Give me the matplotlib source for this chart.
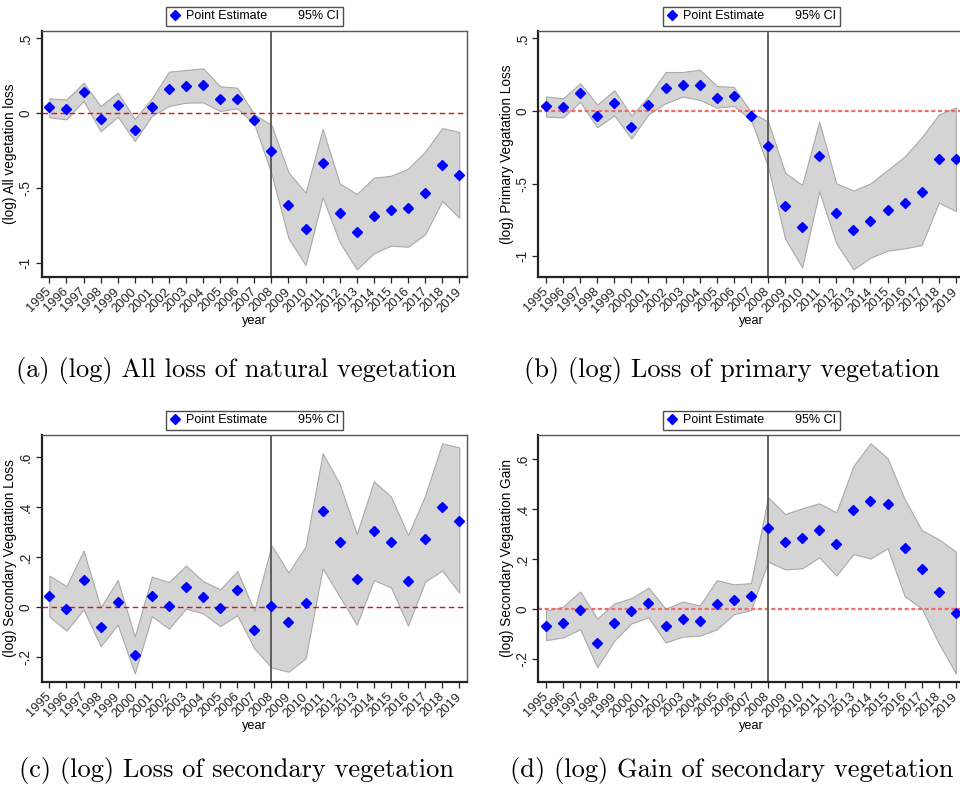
import matplotlib.pyplot as plt
from matplotlib.lines import Line2D
from matplotlib.patches import Patch

years = list(range(1995, 2020))

# (a) all vegetation loss
est_a = [0.040, 0.027, 0.142, -0.038, 0.058, -0.111, 0.040, 0.160, 0.180, 0.187, 0.096, 0.098,
         -0.044, -0.251, -0.611, -0.773, -0.329, -0.664, -0.791, -0.682, -0.647, -0.629, -0.531, -0.342, -0.413]
hi_a = [0.100, 0.093, 0.204, 0.049, 0.138, -0.038, 0.100, 0.278, 0.289, 0.300, 0.180, 0.171,
        -0.007, -0.078, -0.393, -0.529, -0.104, -0.467, -0.538, -0.429, -0.416, -0.369, -0.256, -0.098, -0.124]
lo_a = [-0.027, -0.040, 0.084, -0.120, -0.022, -0.184, -0.018, 0.049, 0.071, 0.073, 0.016, 0.033,
        -0.071, -0.400, -0.833, -1.011, -0.560, -0.860, -1.040, -0.933, -0.882, -0.889, -0.807, -0.584, -0.696]

# (b) primary vegetation loss
est_b = [0.034, 0.025, 0.126, -0.034, 0.055, -0.112, 0.039, 0.158, 0.181, 0.177, 0.092, 0.101,
         -0.034, -0.243, -0.654, -0.796, -0.312, -0.704, -0.819, -0.757, -0.683, -0.631, -0.555, -0.333, -0.333]
hi_b = [0.100, 0.087, 0.190, 0.044, 0.142, -0.032, 0.099, 0.268, 0.268, 0.284, 0.172, 0.165,
        -0.008, -0.073, -0.424, -0.509, -0.073, -0.498, -0.548, -0.498, -0.406, -0.314, -0.181, -0.025, 0.025]
lo_b = [-0.039, -0.044, 0.062, -0.112, -0.030, -0.190, -0.023, 0.053, 0.099, 0.076, 0.023, 0.034,
        -0.058, -0.383, -0.878, -1.076, -0.553, -0.911, -1.089, -1.009, -0.961, -0.945, -0.922, -0.631, -0.688]

# (c) secondary vegetation loss
est_c = [0.045, -0.005, 0.109, -0.077, 0.020, -0.191, 0.044, 0.007, 0.080, 0.040, -0.001, 0.069,
         -0.089, 0.007, -0.060, 0.017, 0.387, 0.263, 0.112, 0.307, 0.260, 0.107, 0.275, 0.400, 0.347]
hi_c = [0.127, 0.085, 0.227, 0.000, 0.109, -0.117, 0.123, 0.101, 0.167, 0.105, 0.072, 0.145,
        -0.013, 0.248, 0.139, 0.243, 0.616, 0.493, 0.293, 0.504, 0.443, 0.289, 0.447, 0.656, 0.639]
lo_c = [-0.037, -0.093, -0.008, -0.155, -0.069, -0.264, -0.035, -0.085, -0.005, -0.024, -0.075, -0.031,
        -0.164, -0.240, -0.257, -0.204, 0.156, 0.043, -0.069, 0.109, 0.080, -0.073, 0.103, 0.147, 0.059]

# (d) secondary vegetation gain
est_d = [-0.065, -0.053, -0.004, -0.135, -0.053, -0.007, 0.027, -0.067, -0.039, -0.047, 0.020, 0.039,
         0.052, 0.324, 0.271, 0.284, 0.316, 0.260, 0.397, 0.433, 0.423, 0.245, 0.160, 0.071, -0.013]
hi_d = [-0.005, 0.011, 0.072, -0.037, 0.024, 0.045, 0.087, 0.003, 0.031, 0.015, 0.117, 0.100,
        0.105, 0.448, 0.381, 0.404, 0.424, 0.388, 0.573, 0.664, 0.604, 0.441, 0.317, 0.280, 0.231]
lo_d = [-0.123, -0.112, -0.079, -0.231, -0.125, -0.056, -0.032, -0.132, -0.109, -0.105, -0.080, -0.019,
        -0.003, 0.191, 0.160, 0.164, 0.208, 0.135, 0.221, 0.203, 0.244, 0.053, 0.004, -0.136, -0.256]

ylabels = ["(log) All vegetation loss", "(log) Primary Vegatation Loss",
           "(log) Secondary Vegatation Loss", "(log) Secondary Vegatation Gain"]
captions = ["(a) (log) All loss of natural vegetation", "(b) (log) Loss of primary vegetation",
            "(c) (log) Loss of secondary vegetation", "(d) (log) Gain of secondary vegetation"]
ticks_top = [-1, -0.5, 0, 0.5]
ticklabels_top = ["-1", "-.5", "0", ".5"]
ticks_bot = [-0.2, 0, 0.2, 0.4, 0.6]
ticklabels_bot = ["-.2", "0", ".2", ".4", ".6"]

plt.rcParams['font.family'] = ['Liberation Sans', 'DejaVu Sans']

fig = plt.figure(figsize=(9.6, 7.94), dpi=100)

w = 425.6 / 960
boxes = [
    (41.7 / 960, 1 - 276.7 / 794, w, 245.7 / 794),
    (538.3 / 960, 1 - 276.7 / 794, w, 245.7 / 794),
    (41.7 / 960, 1 - 681.7 / 794, w, 246.7 / 794),
    (538.3 / 960, 1 - 681.7 / 794, w, 246.7 / 794),
]
ylims = [(-1.089, 0.549), (-1.14, 0.55), (-0.297, 0.689), (-0.289, 0.697)]
zero_style = [("#e01010", 1.0, (4, 2.5)), ("#f06a6a", 1.6, (1.8, 1.2)),
              ("#e01010", 1.0, (4, 2.5)), ("#f06a6a", 1.6, (1.8, 1.2))]
series = [(est_a, lo_a, hi_a), (est_b, lo_b, hi_b), (est_c, lo_c, hi_c), (est_d, lo_d, hi_d)]

fs = 9.8
for i, (est, lo, hi) in enumerate(series):
    ax = fig.add_axes(boxes[i])
    ax.fill_between(years, lo, hi, facecolor="#d4d4d4", edgecolor="#a9a9a9", linewidth=0.8, zorder=1)
    col, lw, dash = zero_style[i]
    ax.axhline(0, color=col, linewidth=lw, linestyle=(0, dash), zorder=2)
    ax.axvline(2008, color="#555555", linewidth=1.3, zorder=2)
    ax.plot(years, est, linestyle="none", marker="D", markersize=4.6, color="#0000ff", zorder=3)

    ax.set_xlim(1994.55, 2019.47)
    ax.set_ylim(*ylims[i])
    ax.set_xticks(years)
    ax.set_xticklabels([str(y) for y in years], rotation=45, ha="right", va="center",
                       rotation_mode="anchor", fontsize=9.3)
    if i < 2:
        ax.set_yticks(ticks_top)
        ax.set_yticklabels(ticklabels_top, rotation=90, va="center", fontsize=fs)
    else:
        ax.set_yticks(ticks_bot)
        ax.set_yticklabels(ticklabels_bot, rotation=90, va="center", fontsize=fs)
    ax.tick_params(axis="both", direction="out", length=4.5, width=0.9, colors="#222222", pad=2)
    ax.tick_params(axis="x", pad=5)
    ax.set_ylabel(ylabels[i], fontsize=fs, labelpad=1)
    ax.set_xlabel("year", fontsize=fs - 0.6, labelpad=0)
    for side in ("left", "bottom"):
        ax.spines[side].set_linewidth(1.6)
        ax.spines[side].set_color("#222222")
    for side in ("top", "right"):
        ax.spines[side].set_linewidth(1.0)
        ax.spines[side].set_color("#555555")

    handles = [Line2D([], [], linestyle="none", marker="D", markersize=4.6, color="#0000ff"),
               Patch(facecolor="white", edgecolor="none")]
    leg = ax.legend(handles, ["Point Estimate", "95% CI"], ncol=2, loc="lower center",
                    bbox_to_anchor=(0.5, 1.02), fontsize=9, frameon=True, fancybox=False,
                    borderpad=0.3, handlelength=0.9, handletextpad=0.4, columnspacing=1.2,
                    borderaxespad=0)
    leg.get_frame().set_edgecolor("#222222")
    leg.get_frame().set_linewidth(1.0)

cap_pos = [(236.5, 371), (732, 371), (236.5, 770), (732, 770)]
for (cx, cy), txt in zip(cap_pos, captions):
    fig.text(cx / 960, 1 - cy / 794, txt, ha="center", va="center", fontsize=19, family="cmr10")

fig.savefig("out.png", dpi=100)
